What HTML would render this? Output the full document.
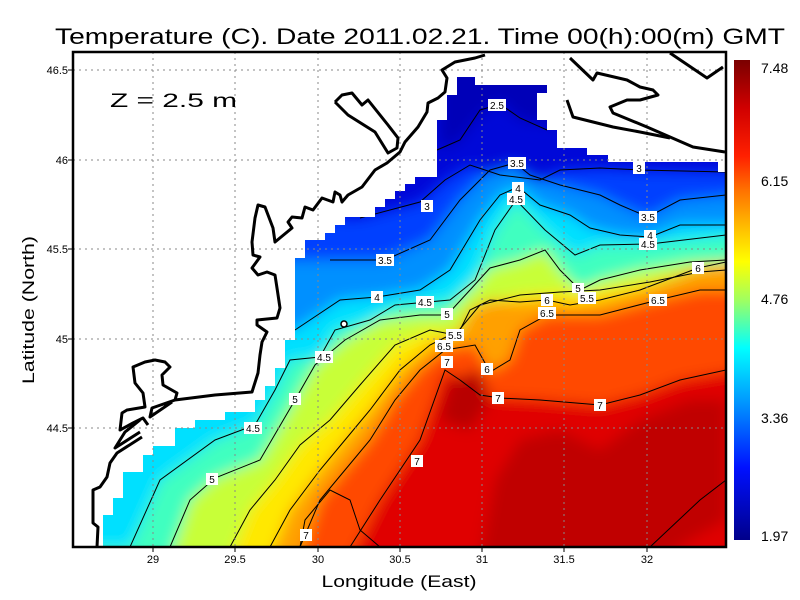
<!DOCTYPE html>
<html><head><meta charset="utf-8"><style>html,body{margin:0;padding:0;background:#fff}svg{display:block}</style></head>
<body>
<svg width="800" height="600" viewBox="0 0 800 600" xmlns="http://www.w3.org/2000/svg" font-family="Liberation Sans, sans-serif">
<defs>
<clipPath id="sea"><polygon points="103,547 103,515 113,515 113,498 123,498 123,472 143,472 143,455 153,455 153,446 175,446 175,428 195,428 195,420 225,420 225,412 255,412 255,400 265,400 265,386 275,386 275,368 285,368 285,340 295,340 295,258 305,258 305,240 325,240 325,233 335,233 335,225 345,225 345,217 375,217 375,207 385,207 385,199 395,199 395,191 405,191 405,184 415,184 415,177 437,177 437,120 447,120 447,95 457,95 457,77 475,77 475,85 547,85 547,93 537,93 537,120 547,120 547,130 557,130 557,148 587,148 587,155 608,155 608,162 718,162 718,172 726,172 726,547"/></clipPath>
<filter id="bl" x="-10%" y="-10%" width="120%" height="120%"><feGaussianBlur stdDeviation="7"/></filter>
<linearGradient id="cb" x1="0" y1="0" x2="0" y2="1">
<stop offset="0" stop-color="#7a0000"/><stop offset="0.1" stop-color="#d00000"/><stop offset="0.2" stop-color="#ff2000"/><stop offset="0.27" stop-color="#ff7000"/><stop offset="0.36" stop-color="#ffc800"/><stop offset="0.42" stop-color="#ffff00"/><stop offset="0.5" stop-color="#a0ff60"/><stop offset="0.6" stop-color="#00ffff"/><stop offset="0.72" stop-color="#0090ff"/><stop offset="0.85" stop-color="#0010ff"/><stop offset="1" stop-color="#00008a"/>
</linearGradient>
</defs>
<rect width="800" height="600" fill="#fff"/>
<g clip-path="url(#sea)">
<rect x="70" y="50" width="660" height="500" fill="#0008d8"/>
<g filter="url(#bl)">
<polygon fill="#0000b8" points="440,60 560,60 560,125 520,120 500,100 480,115 460,140 440,150"/>
<polygon fill="#0040ff" points="75,213 360,218 420,202 445,180 470,165 500,175 540,180 560,170 600,168 640,170 740,172 740,560 75,560"/>
<polygon fill="#0090ff" points="75,262 330,260 385,260 430,240 460,200 490,170 515,163 530,175 560,185 600,195 620,205 648,217 680,200 740,195 740,560 75,560"/>
<polygon fill="#00e0ff" points="75,330 295,330 340,300 377,297 420,290 450,270 480,220 500,195 518,187 540,205 570,215 590,228 620,235 650,237 680,225 740,225 740,560 75,560"/>
<polygon fill="#40ffc0" points="75,547 130,547 160,480 215,440 255,425 275,390 290,360 320,357 335,330 370,320 395,305 450,300 475,280 495,230 516,200 545,230 575,255 600,245 650,244 740,235 740,560 75,560"/>
<polygon fill="#c8ff38" points="170,560 190,500 215,478 260,460 295,400 315,365 345,340 380,320 420,315 447,315 470,290 490,268 520,260 545,250 560,270 580,290 600,280 640,270 690,262 740,260 740,560"/>
<polygon fill="#ffe800" points="230,560 250,510 275,480 300,445 330,420 360,385 395,345 430,330 455,335 480,305 520,295 560,292 600,290 650,282 700,272 740,270 740,560"/>
<polygon fill="#ffa000" points="270,560 290,510 320,470 345,440 370,410 400,370 430,345 460,330 470,310 490,300 520,302 547,300 570,305 600,300 640,290 698,268 740,262 740,560"/>
<polygon fill="#ff4800" points="300,560 320,500 345,470 370,440 395,400 420,370 445,350 475,345 490,372 510,360 520,330 547,315 600,315 658,300 700,290 740,290 740,560"/>
<polygon fill="#e00000" points="350,560 380,500 400,470 420,440 445,370 460,380 480,395 500,398 540,400 600,405 640,395 680,380 740,370 740,560"/>
<polygon fill="#c00000" points="480,560 495,480 520,440 560,430 600,450 640,420 690,400 726,400 726,520 690,540 660,560"/>
<polygon fill="#b80000" points="450,380 480,370 490,400 470,430 440,420"/>
</g>
<g fill="none" stroke="#000" stroke-width="1">
<polyline points="437,150 460,140 480,110 500,104 520,118 547,130"/>
<polyline points="360,218 420,202 445,180 470,165 500,175 540,180 560,170 600,168 640,170 726,172"/>
<polyline points="330,260 385,260 430,240 460,200 490,170 515,163 530,175 560,185 600,195 620,205 648,217 680,200 726,195"/>
<polyline points="295,330 340,300 377,297 420,290 450,270 480,220 500,195 518,187 540,205 570,215 590,228 620,235 650,237 680,225 726,225"/>
<polyline points="130,547 160,480 215,440 255,425 275,390 290,360 320,357 335,330 370,320 395,305 450,300 475,280 495,230 516,200 545,230 575,255 600,245 650,244 726,235"/>
<polyline points="170,547 190,500 215,478 260,460 295,400 315,365 345,340 380,320 420,315 447,315 470,290 490,268 520,260 545,250 560,270 580,290 600,280 640,270 690,262 726,260"/>
<polyline points="230,547 250,510 275,480 300,445 330,420 360,385 395,345 430,330 455,335 480,305 520,295 560,292 600,290 650,282 700,272 726,270"/>
<polyline points="270,547 290,510 320,470 345,440 370,410 400,370 430,345 460,330 470,310 490,300 520,302 547,300 570,305 600,300 640,290 698,268 726,262"/>
<polyline points="300,547 320,500 345,470 370,440 395,400 420,370 445,350 475,345 490,372 510,360 520,330 547,315 600,315 658,300 700,290 726,290"/>
<polyline points="350,547 380,500 400,470 420,440 445,370 460,380 480,395 500,398 540,400 600,405 640,395 680,380 726,370"/>
<polyline points="300,547 305,520 330,490 350,500 360,530 380,547"/>
<polyline points="650,547 700,500 726,480"/>
</g>
</g>
<g stroke="#888" stroke-width="1" stroke-dasharray="2,4" fill="none">
<line x1="153" y1="52" x2="153" y2="547"/><line x1="235" y1="52" x2="235" y2="547"/><line x1="318" y1="52" x2="318" y2="547"/><line x1="400" y1="52" x2="400" y2="547"/><line x1="482" y1="52" x2="482" y2="547"/><line x1="564" y1="52" x2="564" y2="547"/><line x1="647" y1="52" x2="647" y2="547"/>
<line x1="73" y1="70" x2="726" y2="70"/><line x1="73" y1="160" x2="726" y2="160"/><line x1="73" y1="249" x2="726" y2="249"/><line x1="73" y1="339" x2="726" y2="339"/><line x1="73" y1="428" x2="726" y2="428"/>
</g>
<g fill="none" stroke="#000" stroke-width="3" stroke-linejoin="round">
<polyline points="485,55 475,58 455,62 442,70 447,78 445,92 438,98 428,103 427,112 418,127 405,142 400,152 387,163 375,170 362,187 348,195 342,202 340,195 335,192 333,202 322,198 313,210 305,207 302,218 292,217 288,222 292,228 275,242 273,228 265,207 258,205 255,218 252,242 253,255 260,257 252,268 258,275 267,272 275,275 277,288 280,308 277,318 257,320 257,325 267,332 262,342 260,355 258,373 252,392 215,395 175,400 152,408 150,417 172,402"/>
<polyline points="175,400 177,393 163,385 162,375 170,367 165,362 155,360 145,362 133,367 135,383 143,393 145,407 127,410 122,413 120,430 133,423 143,418 148,425"/>
<polyline points="140,420 125,432 115,448 140,432"/>
<polyline points="142,437 117,453 110,463 107,477 100,487 93,490 93,523 98,527 97,547"/>
<polyline points="335,102 342,95 352,93 362,105 368,100 388,125 398,138 397,148 388,153 375,132 348,115 335,102"/>
<polyline points="570,58 593,80 597,73 627,80 640,87 653,90 658,95 640,100 627,100 610,107 613,113 647,127 670,137 693,147 725,152"/>
<polyline points="567,100 573,117 593,122 613,127 640,132 670,138"/>
<polyline points="670,53 707,78 723,67"/>
</g>
<circle cx="344" cy="324" r="3" fill="#fff" stroke="#000" stroke-width="1.5"/>
<g font-size="10" text-anchor="middle">
<g fill="#fff">
<rect x="488" y="99" width="18" height="12"/><rect x="633" y="162" width="12" height="12"/><rect x="421" y="200" width="12" height="12"/><rect x="508" y="157" width="18" height="12"/><rect x="376" y="254" width="18" height="12"/><rect x="639" y="211" width="18" height="12"/><rect x="512" y="182" width="12" height="11"/><rect x="371" y="291" width="12" height="12"/><rect x="644" y="230" width="12" height="10"/><rect x="507" y="193" width="18" height="12"/><rect x="416" y="296" width="18" height="12"/><rect x="639" y="238" width="18" height="12"/><rect x="315" y="351" width="18" height="12"/><rect x="244" y="422" width="18" height="12"/><rect x="441" y="308" width="12" height="12"/><rect x="289" y="393" width="12" height="12"/><rect x="572" y="283" width="12" height="10"/><rect x="206" y="473" width="12" height="12"/><rect x="446" y="329" width="18" height="12"/><rect x="578" y="292" width="18" height="12"/><rect x="541" y="294" width="12" height="12"/><rect x="692" y="262" width="12" height="12"/><rect x="481" y="363" width="12" height="12"/><rect x="435" y="340" width="18" height="12"/><rect x="538" y="307" width="18" height="12"/><rect x="649" y="294" width="18" height="12"/><rect x="441" y="356" width="12" height="12"/><rect x="492" y="392" width="12" height="12"/><rect x="594" y="399" width="12" height="12"/><rect x="411" y="455" width="12" height="12"/><rect x="300" y="529" width="12" height="12"/>
</g>
<g fill="#000">
<text x="497" y="109">2.5</text><text x="639" y="172">3</text><text x="427" y="210">3</text><text x="517" y="167">3.5</text><text x="385" y="264">3.5</text><text x="648" y="221">3.5</text><text x="518" y="192">4</text><text x="377" y="301">4</text><text x="650" y="239">4</text><text x="516" y="203">4.5</text><text x="425" y="306">4.5</text><text x="648" y="248">4.5</text><text x="324" y="361">4.5</text><text x="253" y="432">4.5</text><text x="447" y="318">5</text><text x="295" y="403">5</text><text x="578" y="292">5</text><text x="212" y="483">5</text><text x="455" y="339">5.5</text><text x="587" y="302">5.5</text><text x="547" y="304">6</text><text x="698" y="272">6</text><text x="487" y="373">6</text><text x="444" y="350">6.5</text><text x="547" y="317">6.5</text><text x="658" y="304">6.5</text><text x="447" y="366">7</text><text x="498" y="402">7</text><text x="600" y="409">7</text><text x="417" y="465">7</text><text x="306" y="539">7</text>
</g>
</g>
<rect x="73" y="52" width="653" height="495" fill="none" stroke="#000" stroke-width="2.5"/>
<text x="110" y="107" font-size="19" textLength="127" lengthAdjust="spacingAndGlyphs" fill="#000">Z  =  2.5  m</text>
<text x="55" y="44" font-size="22" textLength="730" lengthAdjust="spacingAndGlyphs" fill="#000">Temperature (C). Date 2011.02.21. Time 00(h):00(m) GMT</text>
<text x="399" y="587" font-size="17" text-anchor="middle" textLength="155" lengthAdjust="spacingAndGlyphs">Longitude (East)</text>
<text transform="translate(34,310) rotate(-90)" font-size="17" text-anchor="middle" textLength="148" lengthAdjust="spacingAndGlyphs">Latitude (North)</text>
<g font-size="11" text-anchor="middle">
<text x="153" y="563">29</text><text x="235" y="563">29.5</text><text x="318" y="563">30</text><text x="400" y="563">30.5</text><text x="482" y="563">31</text><text x="564" y="563">31.5</text><text x="647" y="563">32</text>
</g>
<g font-size="11" text-anchor="end">
<text x="68" y="74">46.5</text><text x="68" y="164">46</text><text x="68" y="253">45.5</text><text x="68" y="343">45</text><text x="68" y="432">44.5</text>
</g>
<g stroke="#000" stroke-width="1">
<line x1="153" y1="547" x2="153" y2="552"/><line x1="235" y1="547" x2="235" y2="552"/><line x1="318" y1="547" x2="318" y2="552"/><line x1="400" y1="547" x2="400" y2="552"/><line x1="482" y1="547" x2="482" y2="552"/><line x1="564" y1="547" x2="564" y2="552"/><line x1="647" y1="547" x2="647" y2="552"/>
<line x1="68" y1="70" x2="73" y2="70"/><line x1="68" y1="160" x2="73" y2="160"/><line x1="68" y1="249" x2="73" y2="249"/><line x1="68" y1="339" x2="73" y2="339"/><line x1="68" y1="428" x2="73" y2="428"/>
</g>
<rect x="734" y="60" width="16" height="480" fill="url(#cb)"/>
<g font-size="14" fill="#000">
<text x="761" y="73">7.48</text><text x="761" y="186">6.15</text><text x="761" y="304">4.76</text><text x="761" y="423">3.36</text><text x="761" y="541">1.97</text>
</g>
</svg>
</body></html>
